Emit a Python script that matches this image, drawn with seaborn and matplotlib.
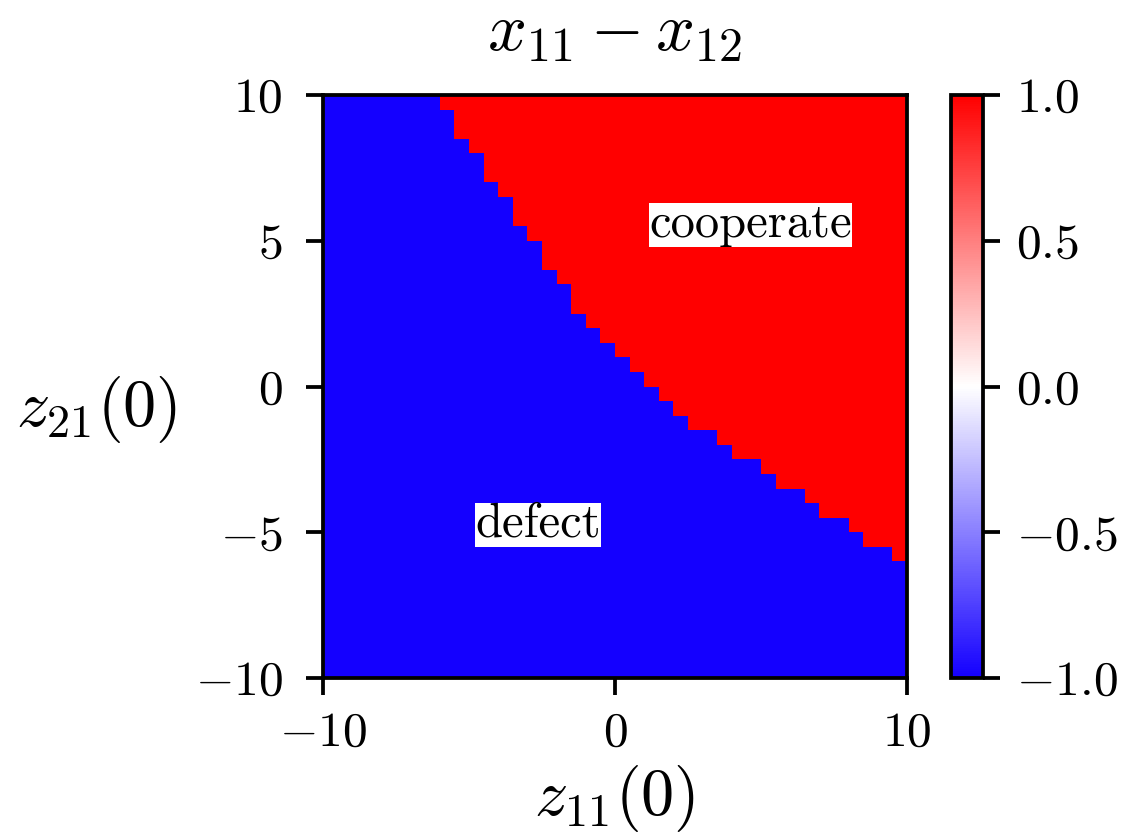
import numpy as np
import matplotlib
matplotlib.use("Agg")
import matplotlib.pyplot as plt
from matplotlib.colors import LinearSegmentedColormap
import seaborn as sns

# grid: 40 x 40 cells over [-10, 10] x [-10, 10]
n_cells = 40
z_min, z_max = -10, 10

# z21(0) value where x11 - x12 switches from defect (-1) to cooperate (+1),
# one entry per z11(0) column (left to right)
boundary_z21 = [10, 10, 10, 10, 10, 10, 10, 10, 9.5, 8.5,
                8, 7, 6.5, 5.5, 5, 4, 3.5, 2.5, 2, 1.5,
                1, 0.5, 0, -0.5, -1, -1.5, -1.5, -2, -2.5, -2.5,
                -3, -3.5, -3.5, -4, -4.5, -4.5, -5, -5.5, -5.5, -6]

x_ticks = [-10, 0, 10]
y_ticks = [10, 5, 0, -5, -10]
cbar_ticks = [-1.0, -0.5, 0.0, 0.5, 1.0]

labels = [("cooperate", 4.65, 5.55), ("defect", -2.64, -4.74)]

sns.set_style("ticks")
plt.rcParams.update({
    "font.family": "serif",
    "font.serif": ["cmr10"],
    "mathtext.fontset": "cm",
    "axes.formatter.use_mathtext": True,
    "axes.edgecolor": "black",
    "axes.labelcolor": "black",
    "text.color": "black",
    "xtick.color": "black",
    "ytick.color": "black",
    "xtick.direction": "out",
    "ytick.direction": "out",
})

cell = (z_max - z_min) / n_cells
# row i runs from top (z21 = 10) downward
row_centers = z_max - cell * (np.arange(n_cells) + 0.5)
grid = np.where(row_centers[:, None] > np.array(boundary_z21)[None, :], 1.0, -1.0)


def to_idx_x(v):
    return (v - z_min) / cell


def to_idx_y(v):
    return (z_max - v) / cell


cmap = LinearSegmentedColormap.from_list("bwr_like", ["#1400ff", "white", "#ff0000"])

fig = plt.figure(figsize=(1130 / 340, 836 / 340), dpi=340)
ax = fig.add_axes([323 / 1130, 1 - 678 / 836, 584 / 1130, 583 / 836])
cax = fig.add_axes([951 / 1130, 1 - 678 / 836, 32 / 1130, 583 / 836])

sns.heatmap(grid, cmap=cmap, vmin=-1, vmax=1, ax=ax, cbar_ax=cax,
            xticklabels=False, yticklabels=False)

for s in ax.spines.values():
    s.set_visible(True)
    s.set_linewidth(0.8)
    s.set_color("black")

ax.set_xticks([to_idx_x(v) for v in x_ticks])
ax.set_xticklabels([f"${v}$" for v in x_ticks])
ax.set_yticks([to_idx_y(v) for v in y_ticks])
ax.set_yticklabels([f"${v}$" for v in y_ticks], rotation=0)
ax.tick_params(labelsize=10.5, length=3.5, width=0.8)
ax.tick_params(axis="y", pad=5)

for txt, zx, zy in labels:
    ax.text(to_idx_x(zx), to_idx_y(zy), txt, ha="center", va="center",
            fontsize=10.3, family="cmr10", color="black",
            bbox=dict(facecolor="white", edgecolor="none", pad=0))

ax.set_title(r"$x_{11} - x_{12}$", fontsize=14.5, pad=9.5)
ax.set_xlabel(r"$z_{11}(0)$", fontsize=14, labelpad=1.7)
ax.set_ylabel(r"$z_{21}(0)$", fontsize=14, rotation=0, ha="center", va="center")
ax.yaxis.set_label_coords(-0.387, 0.46)

cbar = ax.collections[0].colorbar
cbar.set_ticks(cbar_ticks)
cbar.set_ticklabels([f"${v:.1f}$" for v in cbar_ticks])
cbar.outline.set_linewidth(0.8)
cbar.outline.set_edgecolor("black")
cbar.outline.set_visible(True)
cax.tick_params(labelsize=10.5, length=3.5, width=0.8)

fig.savefig("out.png", dpi=340)
